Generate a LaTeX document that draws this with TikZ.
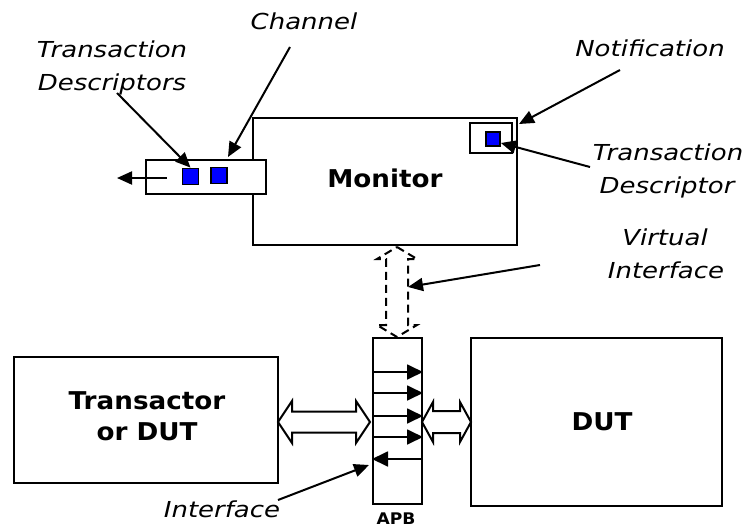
\documentclass[tikz,border=0pt]{standalone}
\usepackage{fontspec}
\setmainfont{DejaVu Sans}
\newfontfamily\labelfam{DejaVu Sans}[FakeStretch=1.18]
\newfontfamily\boldfam{DejaVu Sans}[FakeStretch=1.07]
\usetikzlibrary{arrows.meta,calc}
\begin{document}
\begin{tikzpicture}[x=1pt,y=-1pt,
 box/.style={draw,line width=2pt,fill=white,inner sep=0pt},
 bluesq/.style={draw,line width=1.8pt,fill=blue,inner sep=0pt,minimum size=16pt},
 lbl/.style={font=\labelfam\itshape\fontsize{22}{33}\selectfont,align=center,inner sep=0pt},
 title/.style={font=\boldfam\bfseries\fontsize{24.5}{31}\selectfont,align=center,inner sep=0pt},
 ptr/.style={line width=2pt,-{Triangle[length=15pt,width=13pt]}},
 busarrow/.style={line width=1.8pt,-{Triangle[length=16pt,width=15pt]}},
 fat/.style={draw,line width=2pt,fill=white,line join=miter}
]
\useasboundingbox (0,0) rectangle (747,527);
% Monitor and its parts
\node[box,minimum width=264pt,minimum height=127pt] (monitor) at (385,181.5) {};
\node[title,anchor=base] (montxt) at (385,187) {Monitor};
\node[box,minimum width=120pt,minimum height=34pt] (channel) at (206,177) {};
\node[bluesq] (td1) at (190.5,176.5) {};
\node[bluesq] (td2) at (219,175.5) {};
\coordinate (chout) at (117,178);
\draw[ptr] ($(td1.west)+(-15,1.5)$) -- (chout);
\node[box,minimum width=42pt,minimum height=30pt] (notif) at (491,138) {};
\node[bluesq,minimum size=14pt] (td3) at (493,139) {};
% Interface / DUT
\node[box,minimum width=49pt,minimum height=166pt] (apb) at (397.5,421) {};
\node[font=\boldfam\bfseries\fontsize{16}{18}\selectfont,inner sep=0pt,anchor=base] (apbtxt) at (396,524) {APB};
\foreach \yy in {372,393,416,437}
  \draw[busarrow] (apb.west |- 0,\yy) -- (apb.east |- 0,\yy);
\draw[busarrow] (apb.east |- 0,459) -- (apb.west |- 0,459);
\node[box,minimum width=251pt,minimum height=168pt] (dut) at (596.5,422) {};
\node[title,anchor=base] (duttxt) at (602,430) {DUT};
\node[box,minimum width=264pt,minimum height=126pt] (xactor) at (146,420) {};
\node[title,anchor=base] (xtxt1) at (147,409) {Transactor};
\node[title,anchor=base] (xtxt2) at (147,440) {or DUT};
% fat arrows
\draw[fat] (278,422) -- (292,401) -- (292,411.5) -- (356,411.5) -- (356,401) -- (370,422)
  -- (356,443) -- (356,432.5) -- (292,432.5) -- (292,443) -- cycle;
\draw[fat] (422,422) -- (433,402) -- (433,411) -- (460,411) -- (460,402) -- (471,422)
  -- (460,442) -- (460,433) -- (433,433) -- (433,442) -- cycle;
\draw[fat,fill=none,dash pattern=on 8pt off 5pt] (397,247) -- (417,259) -- (408,259) -- (408,325) -- (417,325) -- (397,337)
  -- (377,325) -- (386,325) -- (386,259) -- (377,259) -- cycle;
% labels
\node[lbl,anchor=base] (chlbl) at (304,30) {Channel};
\node[lbl,anchor=base] (tdslbl1) at (112,58) {Transaction};
\node[lbl,anchor=base] (tdslbl2) at (112,91) {Descriptors};
\node[lbl,anchor=base] (notlbl) at (650,57) {Notification};
\node[lbl,anchor=base] (tdlbl1) at (668,160) {Transaction};
\node[lbl,anchor=base] (tdlbl2) at (667,193) {Descriptor};
\node[lbl,anchor=base] (vilbl1) at (665,245) {Virtual};
\node[lbl,anchor=base] (vilbl2) at (666,278) {Interface};
\node[lbl,anchor=base] (iflbl) at (222,517) {Interface};
% pointer arrows
\coordinate (p1) at (117,93);
\coordinate (p2) at (290,47);
\coordinate (p3) at (620,70);
\coordinate (p4) at (590,167);
\coordinate (p5) at (540,265);
\coordinate (p6) at (278,500);
\draw[ptr] (p1) -- (td1.north);
\draw[ptr] (p2) -- ($(channel.north)+(22,-2)$);
\draw[ptr] (p3) -- ($(notif.north east)+(6,2)$);
\draw[ptr] (p4) -- ($(td3.east)+(0,4)$);
\draw[ptr] (p5) -- (408,287);
\draw[ptr] (p6) -- ($(apb.west |- 0,465)+(-3,0)$);
\end{tikzpicture}
\end{document}
